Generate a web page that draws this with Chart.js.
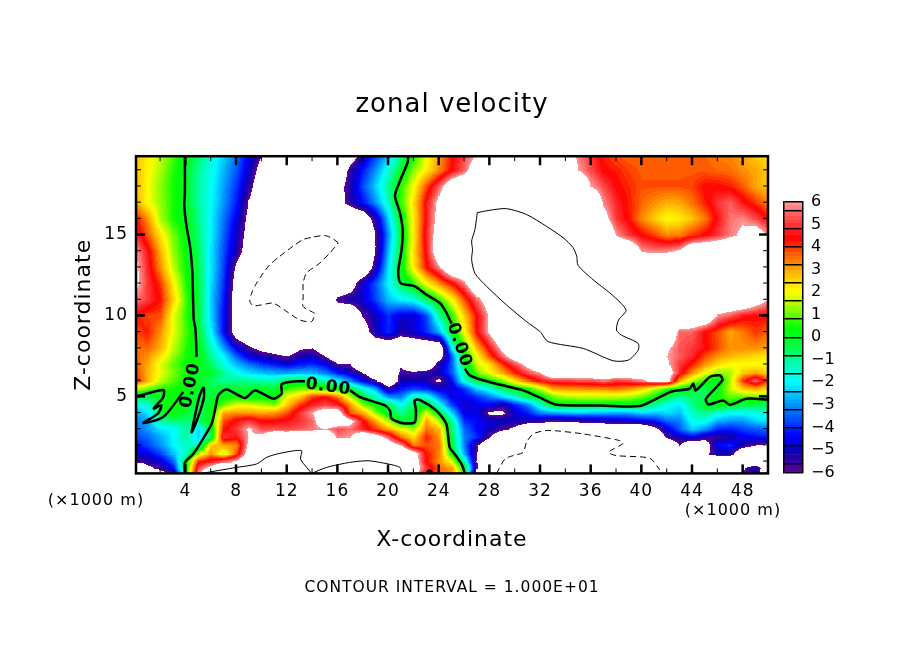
<!DOCTYPE html>
<html>
<head>
<meta charset="utf-8">
<title>zonal velocity</title>
<script src="https://cdn.jsdelivr.net/npm/chart.js@4"></script>
<style>
  html, body { margin: 0; padding: 0; background: #fff; }
  #plot { position: absolute; left: 0; top: 0; }
  #bar { position: absolute; left: 760px; top: 180px; }
</style>
</head>
<body>
<canvas id="plot" width="904" height="654"></canvas>
<canvas id="bar" width="80" height="310"></canvas>
<script>
// Grid columns, x in km, one column per km
var xKm = [0,1,2,3,4,5,6,7,8,9,10,11,12,13,14,15,16,17,18,19,20,21,22,23,24,25,26,27,28,29,30,31,32,33,34,35,36,37,38,39,40,41,42,43,44,45,46,47,48,49,50];
// Grid rows, z in km, bottom to top
var zKm = [0.24,0.6,1,1.5,2,2.5,3,3.5,4,4.5,5,5.5,6,6.5,7,7.5,8,9,10,11,12,13,14,15,16,17,18,19,19.9];

// Values. Past +-6 the plot is white, 8 and -8 stand for those parts
var u00 = [-8,-8,-6.7,-5.8,0,5.8,8,8,8,8,8,8,8,8,8,8,8,8,8,8,8,8,6.8,4.3,3.6,3.3,.2,-7,-8,-8,-8,-8,-8,-8,-8,-8,-8,-8,-8,-8,-8,-8,-8,-8,-8,-8,-8,-8,-6,-5,-8];
var u01 = [-8,-6.4,-5.6,-4.4,0,5.2,6.5,8,8,8,8,8,8,8,8,8,8,8,8,8,8,8,7,5,3.6,3,.2,-5.8,-8,-8,-8,-8,-8,-8,-8,-8,-8,-8,-8,-8,-8,-8,-8,-8,-8,-8,-8,-8,-6.2,-4.8,-8];
var u02 = [-6,-5.4,-4.8,-3.6,-.1,4.2,4.8,5.6,6.2,8,8,8,8,8,8,8,8,8,8,8,8,8,7,4.4,3.2,2,-1.2,-6,-8,-8,-8,-8,-8,-8,-8,-8,-8,-8,-8,-8,-8,-8,-8,-8,-8,-8,-8,-8,-8,-8,-8];
var u03 = [-4.8,-4.6,-3.8,-2.6,-1.5,1.5,3.2,1.6,3.8,7,8,8,8,8,8,8,8,8,8,8,8,8,6.8,4.3,3.4,.3,-2.8,-6,-8,-8,-8,-8,-8,-8,-8,-8,-8,-8,-8,-8,-8,-8,-8,-8,-8,-6.4,-5.2,-5.2,-8,-8,-8];
var u04 = [-4.4,-3.8,-3,-2.1,-1.4,-1.5,2.6,3,3.2,6.5,8,8,8,8,8,8,8,8,8,8,7,6,3.4,3.8,3.5,-.2,-3.2,-5.8,-8,-8,-8,-8,-8,-8,-8,-8,-8,-8,-8,-8,-8,-8,-8,-6,-8,-7,-4.4,-4,-5.2,-6,-6.3];
var u05 = [-3.8,-3.4,-2.8,-2,-1,-2.4,-.5,5,4.6,6,6.5,8,8,8,8,8,5.7,6,8,7,5.5,3.5,2.4,4.2,3.2,-.4,-3.2,-4,-5.9,-8,-8,-8,-8,-8,-8,-8,-8,-8,-8,-8,-8,-8,-5.7,-5,-4.6,-5.4,-5.6,-5.3,-4.6,-4.4,-4.2];
var u06 = [-3.4,-3,-2.2,-2,-1,-2.3,-.2,4.3,5,6.2,5.2,5.3,5.2,5.4,5.6,6,5.2,5.5,4.8,4,3,2,1.3,3.5,2.8,-.7,-3.4,-4.4,-5,-5.6,-6.4,-8,-8,-8,-8,-8,-8,-8,-8,-8,-8,-6.6,-4.8,-3.5,-2.4,-3,-4,-4.2,-3.8,-3.6,-3.4];
var u07 = [-3.2,-2.8,-1,-.8,-.8,-.6,.2,3.8,4.6,5,4.4,4.4,4.6,4.9,5.5,7.5,7.5,6.5,4.5,3,1.4,-.2,-.1,3,1.5,-1,-4,-4.4,-4.8,-4.9,-5,-5.2,-5.4,-6,-5.8,-5.6,-5.4,-5.2,-5,-4.8,-4.6,-4.3,-3.5,-3.2,-1.8,-1.8,-2.8,-3,-3,-2.4,-2.2];
var u08 = [-2.9,-2.2,-.5,.3,-.2,-.7,.1,3,3.2,3.2,3,3.2,3.8,5,6,7,7,3.7,3,1.2,0,-1,-.2,1.8,0,-2.4,-4.6,-4.6,-6.3,-6.3,-4.8,-4.2,-3.2,-2.9,-2.7,-2.6,-2.7,-2.8,-2.9,-2.8,-2.4,-2.6,-2.3,-2.6,-1.4,-.9,-1.6,-1.9,-1.9,-1.7,-1.7];
var u09 = [-2,-1.6,.2,.5,.3,-.4,-.1,1,1.8,1.8,1.5,1.2,2.6,4,4.8,5.2,4.8,3.2,1.2,.2,-.3,-1.9,-.4,.2,-1.7,-3.8,-5,-4.6,-4.5,-5.2,-4.2,-3.2,-1.5,.1,.1,.1,.1,.1,.1,.1,-.1,-1,-1.8,-2.2,-.9,-.2,.2,0,-.4,-.5,-.5];
var u10 = [0,-.5,-.2,.3,.1,-.4,-.3,.4,.4,.05,.3,0,2,2.6,4,4.4,3.5,1.5,-.3,-1.3,-3,-3.2,-1.4,-1.6,-3.2,-4.6,-4.5,-4,-3.2,-2.4,-1.4,-.4,-.1,1,1.4,1.5,1.5,1.5,1.5,1.4,1,.4,-.4,-1.1,-.6,-.7,.4,1,.9,1,1];
var u11 = [1.5,1,.6,.5,.3,0,-.5,-.1,-.3,-.3,-.1,-.2,.7,1,1,.5,.2,-.2,-1.6,-2.8,-5.5,-4.2,-3.8,-4,-4.8,-4.8,-4,-2.4,-1.7,-.5,0,.4,1.6,3,3.2,3.2,3.3,3.3,3.5,3.2,2.6,1.6,.6,.2,-.1,-.6,.2,1.6,2.6,3,2.4];
var u12 = [4.3,2.9,1.6,.9,.4,-.1,-.6,-1.1,-.9,-1,-1.2,-1.3,-.3,-.2,-.6,-1.4,-2,-3.2,-4.6,-5.8,-8,-5.2,-5,-5.2,-6.3,-4.4,-1.5,-.3,.3,1.1,2.4,3.6,4.6,5,5,5.2,5.2,5.6,5,5.2,5.7,6.5,6.8,3,1.5,.6,-.2,1.5,4,5.5,3.8];
var u13 = [4,2.8,1.9,1.1,.5,.1,-.2,-1,-1.9,-2.3,-2.6,-2.8,-2.9,-2.7,-2.8,-3.2,-4.2,-5,-6,-8,-8,-5.6,-5.8,-5.4,-5,-3.6,-1,1.1,2,3,4.2,5.3,6,8,8,8,8,8,8,8,7.5,6.8,7,4.8,3.2,2,1.2,1.4,2.6,3,2.4];
var u14 = [3.7,3,1.8,1,.3,.1,-.6,-1.8,-2.6,-3.3,-3.9,-4.2,-4.6,-4.2,-4,-4.5,-5.8,-6,-8,-8,-8,-6.3,-8,-8,-5.2,-3.6,-.2,1.6,2.4,4,5.2,6.5,8,8,8,8,8,8,8,8,8,8,6.2,5,4.2,3.2,2.4,2,2,2,2];
var u15 = [3.6,3.2,2.3,1.3,.5,.2,-1,-2,-3.5,-4.7,-5.2,-5.6,-6,-5.2,-5,-6,-7.5,-8,-8,-8,-8,-8,-8,-8,-7,-3.6,.3,2,3.8,5.5,7,8,8,8,8,8,8,8,8,8,8,8,6,5.4,4.8,3.8,3.2,2.8,2.6,2.4,2.2];
var u16 = [3.5,3.6,2.9,1.6,.6,0,-1.3,-2.9,-4.6,-5.7,-6.5,-7,-7.5,-6.2,-6,-7.2,-8,-8,-8,-8,-8,-8,-8,-8,-8,-2,.6,2.8,4.6,6.4,8,8,8,8,8,8,8,8,8,8,8,8,6.2,5.3,5,4.5,3.8,3.2,3.2,3.2,3];
var u17 = [3.9,4.2,3.2,1.9,.8,-.2,-2,-4.4,-7,-8,-8,-8,-8,-8,-8,-8,-8,-8,-7,-5,-4,-5.3,-4.8,-4,-2.8,-.1,2,4.4,6.2,8,8,8,8,8,8,8,8,8,8,8,8,8,8,5.5,5.4,4.4,3.8,3,3.4,4,3.6];
var u18 = [4.4,3.9,3.8,1.9,.7,-.4,-2.4,-4.4,-7,-8,-8,-8,-8,-8,-8,-8,-8,-8,-5.9,-5,-4,-4.8,-4.8,-3.8,-1.2,.6,2.6,4.4,6.2,8,8,8,8,8,8,8,8,8,8,8,8,8,8,8,8,8,5.8,5.3,4.6,4.4,4.4];
var u19 = [5.7,5,4.3,2.6,.8,-.4,-2.4,-4.2,-7,-8,-8,-8,-8,-8,-8,-8,-5.6,-5.2,-4.8,-3.8,-2.6,-2.1,-1.8,-.6,.6,2,3.8,5.5,7,8,8,8,8,8,8,8,8,8,8,8,8,8,8,8,8,8,8,8,8,7,5.9];
var u20 = [6.4,5,4,2.2,.6,-.4,-2.3,-4,-6.8,-8,-8,-8,-8,-8,-8,-8,-8,-7,-4.8,-3.6,-2,-.5,.6,2,3.2,4.3,5.7,8,8,8,8,8,8,8,8,8,8,8,8,8,8,8,8,8,8,8,8,8,8,8,8];
var u21 = [6.4,4.8,3.2,1.6,.4,-.5,-2.2,-3.8,-6.3,-8,-8,-8,-8,-8,-8,-8,-8,-8,-8,-5.2,-2.2,.2,2.2,4.3,5.8,8,8,8,8,8,8,8,8,8,8,8,8,8,8,8,8,8,8,8,8,8,8,8,8,8,8];
var u22 = [6,4.6,2.9,1.3,.3,-.6,-2.2,-3.7,-5.2,-7,-8,-8,-8,-8,-8,-8,-8,-8,-8,-6,-2.6,-.1,2.4,4.6,7.4,8,8,8,8,8,8,8,8,8,8,8,8,8,8,8,5.9,5.7,5.8,6.2,8,8,8,8,8,8,8];
var u23 = [5,3.7,2.3,1.1,.2,-.8,-2.1,-3.5,-5,-6.7,-8,-8,-8,-8,-8,-8,-8,-8,-8,-6,-3,-.2,2.2,4.8,7,8,8,8,8,8,8,8,8,8,8,8,8,8,5.9,5,4.4,3.9,3.3,3.4,4,4.4,5,5.7,6.3,7,5.9];
var u24 = [4.4,3.2,1.4,.5,.1,-.9,-2.1,-3.3,-4.6,-6.5,-8,-8,-8,-8,-8,-8,-8,-8,-7.5,-5.2,-2.4,.1,2.2,4.6,6.7,8,8,8,8,8,8,8,8,8,8,8,8,6.6,5,4.3,3.3,2.6,2,2.2,2.7,3.4,4.6,5.6,5.8,5.2,4.4];
var u25 = [3,2,1.3,.5,-.1,-1.1,-2,-3,-4.2,-6.1,-8,-8,-8,-8,-8,-8,-6.8,-5.4,-4.3,-3,-1.4,.7,2.4,4.6,6.4,8,8,8,8,8,8,8,8,8,8,8,8,5.8,4.8,4.2,3.6,3.2,2.9,3,3.5,4.2,5,5.4,4.6,4,3.3];
var u26 = [2.9,2,1.2,.5,0,-1.1,-1.9,-2.9,-3.9,-5.4,-7.5,-8,-8,-8,-8,-8,-6.8,-5.2,-3.7,-2.4,-1,.6,2,3.8,5.4,7.4,8,8,8,8,8,8,8,8,8,8,6,5.2,4.4,4.1,3.8,3.8,3.8,3.8,3.9,4.4,4.4,4.2,3.7,3,2.6];
var u27 = [2.8,2.1,1.4,.6,-.1,-1,-1.8,-2.7,-3.6,-4.9,-6.8,-8,-8,-8,-8,-8,-8,-5.4,-4.2,-3,-1.6,-.1,1.2,2.2,3.3,4.4,5.5,7.2,8,8,8,8,8,8,8,6,5.2,4.4,4.2,3.9,3.7,3.7,3.7,3.7,3.7,3.7,3.6,3.5,3.2,3,2.6];
var u28 = [2.7,2.2,1.6,.8,0,-.6,-1.7,-2.4,-3.3,-4.6,-6,-8,-8,-8,-8,-8,-8,-7.2,-5,-3.8,-2.6,-.9,.4,1.9,3.1,4.3,5.2,6.1,8,8,8,8,8,8,7,5.7,5,4.2,3.8,3.6,3.6,3.6,3.6,3.6,3.6,3.6,3.4,3.3,3,2.6,2.3];
var uRows = [u00,u01,u02,u03,u04,u05,u06,u07,u08,u09,u10,u11,u12,u13,u14,u15,u16,u17,u18,u19,u20,u21,u22,u23,u24,u25,u26,u27,u28];

// Axis ticks
var xMajor = [4,8,12,16,20,24,28,32,36,40,44,48];
var xMinor = [2,6,10,14,18,22,26,30,34,38,42,46];
var zMajor = [5,10,15];
var zMinor = [1,2,3,4,6,7,8,9,11,12,13,14,16,17,18,19];

// Colour bar
var barLabels = [6,5,4,3,2,1,0,-1,-2,-3,-4,-5,-6];
var barEdges = [6,5.6,4.8,4,3.2,2.4,1.6,0.8,0,-0.8,-1.6,-2.4,-3.2,-4,-4.8,-5.6,-6];
var shadeStep = 0.16;
var stopValues = [6,5.2,4.4,3.6,2.8,2,1.2,0.4,-0.4,-1.2,-2,-2.8,-3.6,-4.4,-5.2,-6];
var stopColors = [[255,156,156],[255,72,72],[255,0,0],[255,102,0],[255,187,0],[255,255,0],[136,255,0],[0,255,0],[0,255,60],[0,255,176],[0,255,255],[0,170,255],[0,85,255],[0,0,255],[17,0,170],[102,0,153]];

// Contour lines, [x km, z km]
var zeroA = [[3.96,19.87],[3.96,17.6],[3.91,16.8],[4.09,15.5],[4.36,14.3],[4.54,12.8],[4.62,10.55],[4.67,9.7],[4.8,9.1],[4.88,7.44]];
var zeroB = [[0.15,5],[2.25,5.4],[2.25,4.95],[1.5,4.25],[2.1,4.45],[1.85,3.95],[.67,3.35],[2.25,3.72],[3.83,5.27]];
var zeroC = [[5.46,5.58],[5.46,4.92],[5,3.72],[4.49,2.78],[4.62,3.3],[5.02,4.75],[5.28,5.37],[5.46,5.58]];
var zeroD = [[3.96,.24],[3.96,.92],[4.62,1.44],[5.54,2.57],[6.07,3.3],[6.33,4.13],[6.6,5.06],[7.25,5.43],[8.7,4.9],[9.5,5.37],[10.94,4.86],[11.6,5.17],[11.6,5.75],[12.78,5.93],[13.44,5.93]];
var zeroE = [[17,5.37],[17.78,4.96],[19.75,4.44],[20.15,4.13],[20.28,3.62],[21.2,3.34],[22.1,3.4],[22.2,4.13],[22.1,4.75],[22.5,4.79],[23.8,4.13],[24.6,3.3],[24.87,1.85],[25.3,1.4],[25.8,.82],[26.07,.24]];
var zeroF = [[23.04,.24],[23.25,.44],[23.56,.24]];
var zeroG = [[21.6,19.87],[21.54,19.45],[20.94,18.3],[20.55,17.4],[20.94,16.35],[21.15,15.3],[21.07,14.05],[20.8,12.7],[20.99,12],[22.12,11.8],[23.04,11.28],[24.1,10.76],[24.62,10.14],[25,9.5]];
var zeroH = [[26.07,6.72],[26.46,6.3],[27.5,6],[29.36,5.62],[30.67,5.37],[32,4.92],[33.3,4.48],[36.72,4.44],[39.88,4.4],[41.36,4.92],[42.4,5.3],[43.8,5.47],[44.1,5.8],[44.3,5.37],[45.4,6.2],[46.2,6.3],[46.4,6],[45.1,4.85],[45.3,4.5],[46.46,4.75],[47,4.48],[48.3,4.85],[50,4.8]];
var plusA = [[27.04,16.35],[28.04,16.5],[29.35,16.6],[30.93,16.24],[32.52,15.5],[33.83,14.8],[34.6,14.2],[34.9,13.65],[35,13.1],[36.2,12.2],[37.5,11.4],[38.4,10.75],[38.8,10.3],[38.2,9.72],[38.04,9.1],[38.4,8.8],[39.75,8.27],[39.75,7.85],[38.97,7.24],[37.78,7.2],[35.41,7.96],[32.65,8.38],[32,9],[30.93,9.62],[29.35,10.65],[27.78,11.8],[26.86,12.6],[26.6,13.45],[26.67,14.07],[26.6,14.6],[26.86,15.3],[26.99,16],[27.04,16.35]];
var plusB = [[5.28,.24],[8.04,.61],[9.62,.82],[10.41,1.23],[11.46,1.48],[13.17,1.65],[13.09,1.13],[13.57,.61],[13.96,.24]];
var plusC = [[13.96,.24],[15.15,.61],[16.98,.92],[18.44,1.02],[20.02,.82],[20.94,.61],[21.07,.24]];
var minusA = [[16.07,14.48],[15.67,14.73],[15,14.94],[14.09,14.84],[13.3,14.69],[12.5,14.28],[11.46,13.66],[10.67,13.14],[10.15,12.62],[9.62,12],[9.23,11.38],[9.09,10.86],[9.36,10.6],[10,10.65],[10.94,10.76],[12,10.24],[13.04,9.72],[13.96,9.62],[14.2,10.03],[14.2,10.13],[13.3,10.55],[13.3,11.17],[13.3,12],[13.57,12.62],[14.62,13.24],[15.41,13.86],[16.07,14.48]];
var minusB = [[28.57,.24],[29.23,1.13],[29.88,1.34],[30.67,1.54],[30.93,2.16],[31.46,2.68],[32.5,2.89],[33.57,2.85],[35.41,2.68],[38.3,2.27],[38.57,2.1],[37.4,1.54],[38.04,1.34],[40.67,1.17],[41.46,.45]];

// text, x km, z km, degrees
var lineLabels = [["0.00",4.41,5.68,-78],["0.00",15.28,5.58,8],["0.00",25.62,8.17,71]];

var FONT = "'DejaVu Sans'";

function asPoints(line) {
    return line.map(function(p) { return {x: p[0], y: p[1]}; });
}

function lineSet(line, width, dash) {
    return {data: asPoints(line), showLine: true, pointRadius: 0, borderColor: "#000", borderWidth: width, borderDash: dash || [], tension: 0.25};
}

// colour of a value, in the steps of the bar, white outside of it
function shadeOf(v) {
    if (v > 6 || v < -6) return [255,255,255];
    var q = Math.min(6, -6 + (Math.floor((v + 6) / shadeStep) + 0.5) * shadeStep);
    for (var i = 0; i < stopValues.length - 1; i++) {
        if (q <= stopValues[i] && q >= stopValues[i+1]) {
            var t = (stopValues[i] - q) / (stopValues[i] - stopValues[i+1]);
            var a = stopColors[i], b = stopColors[i+1];
            return [a[0]+(b[0]-a[0])*t, a[1]+(b[1]-a[1])*t, a[2]+(b[2]-a[2])*t];
        }
    }
    return [255,255,255];
}

// Filled bands, cell by cell between the grid nodes, placed by the scales
var bandsPlugin = {
    id: "bands",
    beforeDraw: function(chart) { chart.ctx.letterSpacing = "1px"; },
    beforeDatasetsDraw: function(chart) {
        var sx = chart.scales.x, sy = chart.scales.y, area = chart.chartArea;
        var w = Math.ceil(area.right - area.left), h = Math.ceil(area.bottom - area.top);
        var off = document.createElement("canvas");
        off.width = w; off.height = h;
        var octx = off.getContext("2d");
        var img = octx.createImageData(w, h);
        for (var j = 0; j < zKm.length - 1; j++) {
            var py0 = sy.getPixelForValue(zKm[j]), py1 = sy.getPixelForValue(zKm[j+1]);
            for (var i = 0; i < xKm.length - 1; i++) {
                var px0 = sx.getPixelForValue(xKm[i]), px1 = sx.getPixelForValue(xKm[i+1]);
                var a = uRows[j][i], b = uRows[j][i+1], c = uRows[j+1][i], d = uRows[j+1][i+1];
                for (var py = Math.floor(py1); py <= Math.ceil(py0); py++) {
                    var row = py - Math.floor(area.top);
                    if (row < 0 || row >= h) continue;
                    var ft = Math.max(0, Math.min(1, (py0 - py) / (py0 - py1)));
                    for (var px = Math.floor(px0); px <= Math.ceil(px1); px++) {
                        var col = px - Math.floor(area.left);
                        if (col < 0 || col >= w) continue;
                        var fx = Math.max(0, Math.min(1, (px - px0) / (px1 - px0)));
                        var v = (a*(1-fx) + b*fx)*(1-ft) + (c*(1-fx) + d*fx)*ft;
                        var s = shadeOf(v), k = (row*w + col)*4;
                        img.data[k] = s[0]; img.data[k+1] = s[1]; img.data[k+2] = s[2]; img.data[k+3] = 255;
                    }
                }
            }
        }
        octx.putImageData(img, 0, 0);
        chart.ctx.drawImage(off, Math.floor(area.left), Math.floor(area.top));
    },
    afterDatasetsDraw: function(chart) {
        var ctx = chart.ctx, sx = chart.scales.x, sy = chart.scales.y, area = chart.chartArea;
        ctx.save();
        ctx.strokeStyle = "#000";
        ctx.fillStyle = "#000";
        function tick(x0, y0, x1, y1, width) {
            ctx.lineWidth = width;
            ctx.beginPath(); ctx.moveTo(x0, y0); ctx.lineTo(x1, y1); ctx.stroke();
        }
        // inward ticks on all four sides
        xMajor.forEach(function(v) {
            var p = sx.getPixelForValue(v);
            tick(p, area.top, p, area.top + 9, 2.5);
            tick(p, area.bottom, p, area.bottom - 9, 2.5);
        });
        xMinor.forEach(function(v) {
            var p = sx.getPixelForValue(v);
            tick(p, area.top, p, area.top + 5, 1);
            tick(p, area.bottom, p, area.bottom - 5, 1);
        });
        zMajor.forEach(function(v) {
            var p = sy.getPixelForValue(v);
            tick(area.left, p, area.left + 9, p, 2.5);
            tick(area.right, p, area.right - 9, p, 2.5);
        });
        zMinor.forEach(function(v) {
            var p = sy.getPixelForValue(v);
            tick(area.left, p, area.left + 5, p, 1);
            tick(area.right, p, area.right - 5, p, 1);
        });
        ctx.lineWidth = 2.5;
        ctx.strokeRect(area.left, area.top, area.right - area.left, area.bottom - area.top);
        // contour labels
        ctx.font = "bold 17px " + FONT;
        ctx.textAlign = "center";
        ctx.textBaseline = "middle";
        lineLabels.forEach(function(l) {
            ctx.save();
            ctx.translate(sx.getPixelForValue(l[1]), sy.getPixelForValue(l[2]));
            ctx.rotate(l[3] * Math.PI / 180);
            ctx.fillText(l[0], 0, 0);
            ctx.restore();
        });
        // unit notes
        ctx.font = "16px " + FONT;
        ctx.fillText("(×1000 m)", 96, 501);
        ctx.fillText("(×1000 m)", 733, 511);
        ctx.restore();
    }
};

new Chart(document.getElementById("plot"), {
    type: "scatter",
    data: {
        datasets: [
            lineSet(zeroA, 2.5), lineSet(zeroB, 2.5), lineSet(zeroC, 2.5), lineSet(zeroD, 2.5),
            lineSet(zeroE, 2.5), lineSet(zeroF, 2.5), lineSet(zeroG, 2.5), lineSet(zeroH, 2.5),
            lineSet(plusA, 1), lineSet(plusB, 1), lineSet(plusC, 1),
            lineSet(minusA, 1, [6,4]), lineSet(minusB, 1, [6,4])
        ]
    },
    options: {
        responsive: false,
        animation: false,
        devicePixelRatio: 1,
        layout: {padding: 0},
        plugins: {
            legend: {display: false},
            tooltip: {enabled: false},
            title: {
                display: true, text: "zonal velocity", color: "#000",
                font: {family: FONT, size: 26, weight: "normal", lineHeight: 1.2},
                padding: {top: 90, bottom: 35}
            },
            subtitle: {
                display: true, position: "bottom", text: "CONTOUR INTERVAL = 1.000E+01", color: "#000",
                font: {family: FONT, size: 15.5, weight: "normal", lineHeight: 1.2},
                padding: {top: 5, bottom: 57}
            }
        },
        scales: {
            x: {
                type: "linear", min: 0.1, max: 50,
                afterBuildTicks: function(s) { s.ticks = xMajor.map(function(v) { return {value: v}; }); },
                afterFit: function(s) { s.height = 100; },
                grid: {display: false}, border: {display: false},
                ticks: {color: "#000", font: {family: FONT, size: 17}, padding: 0, maxRotation: 0, autoSkip: false},
                title: {display: true, text: "X-coordinate", color: "#000", font: {family: FONT, size: 22, lineHeight: 1.2}, padding: {top: 0, bottom: 20}}
            },
            y: {
                type: "linear", min: 0.24, max: 19.84,
                afterBuildTicks: function(s) { s.ticks = zMajor.map(function(v) { return {value: v}; }); },
                afterFit: function(s) { s.width = 136; },
                grid: {display: false}, border: {display: false},
                ticks: {color: "#000", font: {family: FONT, size: 17}, padding: 0, autoSkip: false},
                title: {display: true, text: "Z-coordinate", color: "#000", font: {family: FONT, size: 22, lineHeight: 1.2}, padding: {top: 71, bottom: 0}}
            },
            // empty right side, keeps the plot centred
            yRight: {
                type: "linear", position: "right", min: 0.24, max: 19.84,
                afterFit: function(s) { s.width = 136; },
                grid: {display: false}, border: {display: false}, ticks: {display: false}
            }
        }
    },
    plugins: [bandsPlugin]
});

// Colour bar, one floating bar per shade
var shadeSets = [];
for (var lo = -6; lo < 5.99; lo += shadeStep) {
    var c = shadeOf(lo + shadeStep / 2);
    shadeSets.push({
        data: [[lo, lo + shadeStep]],
        backgroundColor: "rgb(" + Math.round(c[0]) + "," + Math.round(c[1]) + "," + Math.round(c[2]) + ")",
        borderWidth: 0, barPercentage: 1, categoryPercentage: 1
    });
}

new Chart(document.getElementById("bar"), {
    type: "bar",
    data: {labels: ["u"], datasets: shadeSets},
    options: {
        responsive: false,
        animation: false,
        devicePixelRatio: 1,
        layout: {padding: {top: 22, bottom: 17.5}},
        plugins: {
            legend: {display: false},
            tooltip: {enabled: false}
        },
        scales: {
            x: {stacked: true, display: false},
            y: {
                min: -6, max: 6,
                afterBuildTicks: function(s) { s.ticks = barEdges.map(function(v) { return {value: v}; }); },
                afterFit: function(s) { s.width = 24; },
                grid: {color: "#000", lineWidth: 1.5, z: 1, drawTicks: false},
                border: {color: "#000", width: 1.5, z: 1},
                ticks: {display: false}
            },
            yLabels: {
                position: "right", min: -6, max: 6,
                afterBuildTicks: function(s) { s.ticks = barLabels.map(function(v) { return {value: v}; }); },
                afterFit: function(s) { s.width = 37; },
                grid: {display: false},
                border: {color: "#000", width: 1.5, z: 1},
                ticks: {
                    color: "#000", font: {family: FONT, size: 16}, padding: 0, autoSkip: false,
                    callback: function(v) { return String(v).replace("-", "\u2212"); }
                }
            }
        }
    }
});
</script>
</body>
</html>
